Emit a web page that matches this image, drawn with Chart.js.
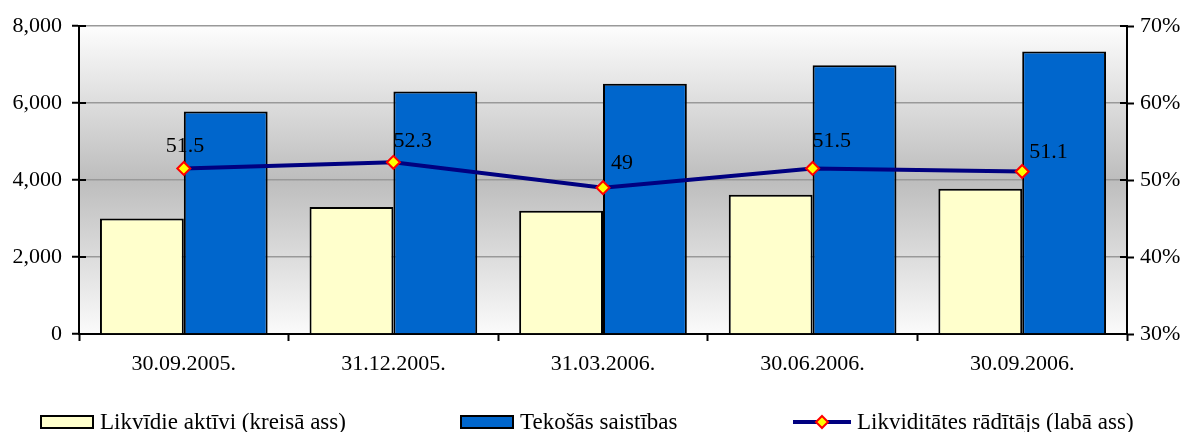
<!DOCTYPE html>
<html>
<head>
<meta charset="utf-8">
<script src="https://cdn.jsdelivr.net/npm/chart.js@4/dist/chart.umd.min.js"></script>
<style>
  html, body { margin: 0; padding: 0; background: #fff; }
  #wrap { width: 1187px; height: 432px; position: relative; }
  #legend { position: absolute; left: 0; top: 408px; width: 1187px; height: 28px;
            font-family: "Liberation Serif"; font-size: 23px; color: #000; }
  .item { position: absolute; top: 0; display: flex; align-items: center; height: 28px; white-space: nowrap; }
  .item canvas { margin-right: 6px; }
</style>
</head>
<body>
<div id="wrap">
  <canvas id="liqChart"></canvas>
  <div id="legend"></div>
</div>
<script>
const categories = ['30.09.2005.', '31.12.2005.', '31.03.2006.', '30.06.2006.', '30.09.2006.'];
const liquidAssets = [3000, 3300, 3200, 3620, 3770];
const currentLiabilities = [5780, 6300, 6500, 6980, 7340];
const liquidityRatio = [51.5, 52.3, 49, 51.5, 51.1];
const seriesNames = ['Likvīdie aktīvi (kreisā ass)', 'Tekošās saistības', 'Likviditātes rādītājs (labā ass)'];

const FONT = 'Liberation Serif';

// legend icons drawn on small canvases
function boxIcon(fill) {
  const c = document.createElement('canvas');
  c.width = 54; c.height = 14;
  const g = c.getContext('2d');
  g.fillStyle = '#000';
  g.fillRect(0, 0, 54, 14);
  g.fillStyle = fill;
  g.fillRect(2, 2, 50, 10);
  return c;
}

function lineIcon() {
  const c = document.createElement('canvas');
  c.width = 58; c.height = 16;
  const g = c.getContext('2d');
  g.strokeStyle = '#000080';
  g.lineWidth = 4;
  g.beginPath(); g.moveTo(0, 8); g.lineTo(58, 8); g.stroke();
  g.beginPath();
  g.moveTo(29, 2); g.lineTo(35, 8); g.lineTo(29, 14); g.lineTo(23, 8); g.closePath();
  g.fillStyle = '#ffff00'; g.fill();
  g.strokeStyle = '#ff0000'; g.lineWidth = 2; g.stroke();
  return c;
}

const legendIcons = [boxIcon('#ffffcc'), boxIcon('#0066cc'), lineIcon()];
const legendLeft = [40, 460, 793];

const legendEl = document.getElementById('legend');
seriesNames.forEach((name, i) => {
  const item = document.createElement('div');
  item.className = 'item';
  item.style.left = legendLeft[i] + 'px';
  item.appendChild(legendIcons[i]);
  const span = document.createElement('span');
  span.textContent = name;
  item.appendChild(span);
  legendEl.appendChild(item);
});

const plotBackground = {
  id: 'plotBackground',
  beforeDraw(chart) {
    const { ctx, chartArea: a } = chart;
    const grad = ctx.createLinearGradient(0, a.top, 0, a.bottom);
    grad.addColorStop(0, '#fdfdfd');
    grad.addColorStop(0.5, '#bdbdbd');
    grad.addColorStop(1, '#fbfbfb');
    ctx.save();
    ctx.fillStyle = grad;
    ctx.fillRect(a.left, a.top, a.right - a.left, a.bottom - a.top);
    ctx.restore();
  }
};

// tick marks crossing the axis lines (inner half)
const innerTicks = {
  id: 'innerTicks',
  afterDraw(chart) {
    const { ctx, chartArea: a, scales } = chart;
    ctx.save();
    ctx.strokeStyle = '#000';
    ctx.lineWidth = 2;
    ctx.beginPath();
    scales.y.ticks.forEach(t => {
      const py = scales.y.getPixelForValue(t.value);
      ctx.moveTo(a.left, py); ctx.lineTo(a.left + 7, py);
    });
    scales.y1.ticks.forEach(t => {
      const py = scales.y1.getPixelForValue(t.value);
      ctx.moveTo(a.right - 7, py); ctx.lineTo(a.right, py);
    });
    ctx.stroke();
    ctx.restore();
  }
};

// value labels next to the ratio points
const pointLabels = {
  id: 'pointLabels',
  afterDatasetsDraw(chart) {
    const { ctx } = chart;
    const meta = chart.getDatasetMeta(2);
    const offsets = [[-18, -16], [0, -15], [8, -19], [0, -21], [7, -14]];
    ctx.save();
    ctx.font = '22px "' + FONT + '"';
    ctx.fillStyle = '#000';
    ctx.textAlign = 'left';
    ctx.textBaseline = 'alphabetic';
    meta.data.forEach((pt, i) => {
      const o = offsets[i] || [4, -16];
      ctx.fillText(String(liquidityRatio[i]), pt.x + o[0], pt.y + o[1]);
    });
    ctx.restore();
  }
};

new Chart(document.getElementById('liqChart'), {
  data: {
    labels: categories,
    datasets: [
      {
        type: 'bar',
        label: seriesNames[0],
        data: liquidAssets,
        backgroundColor: '#ffffcc',
        borderColor: '#000',
        borderWidth: 2,
        yAxisID: 'y',
        order: 1
      },
      {
        type: 'bar',
        label: seriesNames[1],
        data: currentLiabilities,
        backgroundColor: '#0066cc',
        borderColor: '#000',
        borderWidth: 2,
        yAxisID: 'y',
        order: 1
      },
      {
        type: 'line',
        label: seriesNames[2],
        data: liquidityRatio,
        borderColor: '#000080',
        borderWidth: 4,
        pointStyle: 'rectRot',
        pointRadius: 6.5,
        pointBackgroundColor: '#ffff00',
        pointBorderColor: '#ff0000',
        pointBorderWidth: 2,
        tension: 0,
        yAxisID: 'y1',
        order: 0
      }
    ]
  },
  options: {
    responsive: true,
    maintainAspectRatio: false,
    animation: false,
    layout: { padding: { top: 26, left: 0, right: 0, bottom: 48 } },
    datasets: {
      bar: { categoryPercentage: 0.8, barPercentage: 1.0 }
    },
    plugins: {
      tooltip: { enabled: false },
      legend: { display: false }
    },
    scales: {
      x: {
        offset: true,
        grid: {
          offset: true,
          drawOnChartArea: false,
          tickLength: 7,
          tickColor: '#000',
          tickWidth: 2
        },
        border: { color: '#000', width: 2 },
        ticks: { color: '#000', font: { family: FONT, size: 22 }, padding: 10, maxRotation: 0 },
        afterFit(scale) { scale.height = 50; }
      },
      y: {
        position: 'left',
        min: 0,
        max: 8000,
        grid: {
          color: '#999999',
          lineWidth: 1.5,
          tickLength: 7,
          tickColor: '#000',
          tickWidth: 2
        },
        border: { color: '#000', width: 2 },
        ticks: {
          stepSize: 2000,
          color: '#000',
          font: { family: FONT, size: 22 },
          padding: 10,
          callback: v => v.toLocaleString('en-US')
        },
        afterFit(scale) { scale.width = 79; }
      },
      y1: {
        position: 'right',
        min: 30,
        max: 70,
        grid: {
          drawOnChartArea: false,
          tickLength: 7,
          tickColor: '#000',
          tickWidth: 2
        },
        border: { color: '#000', width: 2 },
        ticks: {
          stepSize: 10,
          color: '#000',
          font: { family: FONT, size: 22 },
          padding: 6,
          callback: v => v + '%'
        },
        afterFit(scale) { scale.width = 60; }
      }
    }
  },
  plugins: [plotBackground, innerTicks, pointLabels]
});
</script>
</body>
</html>
